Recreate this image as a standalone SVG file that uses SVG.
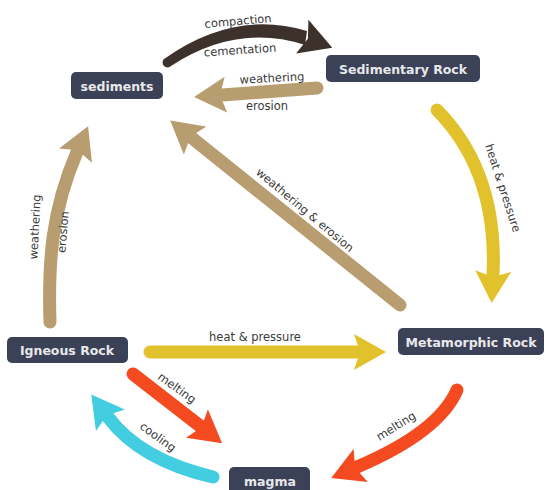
<svg xmlns="http://www.w3.org/2000/svg" width="546" height="490" viewBox="0 0 546 490">
<style>
.node rect{fill:#3b4258;}
.node text{fill:#e8e8ea;font-family:"DejaVu Sans","Liberation Sans",sans-serif;font-weight:bold;font-size:12.5px;text-anchor:middle;dominant-baseline:central;}
.lbl{fill:#3a3a3a;font-family:"DejaVu Sans","Liberation Sans",sans-serif;font-size:11.5px;text-anchor:middle;dominant-baseline:central;}
.arr{fill:none;stroke-width:13;stroke-linecap:round;}
.ghost{fill:none;stroke:none;}
.dark{stroke:#3d312c;}
.tan{stroke:#b89d70;}
.yel{stroke:#e2c22c;}
.red{stroke:#f44a1f;}
.cyan{stroke:#42cde0;}
</style>
<defs>
<marker id="hDark" markerUnits="userSpaceOnUse" markerWidth="32" markerHeight="36" viewBox="0 0 32 36" refX="4" refY="18" orient="auto"><path d="M0,0 L32,18 L0,36 L6,18 Z" fill="#3d312c"/></marker>
<marker id="hTan" markerUnits="userSpaceOnUse" markerWidth="32" markerHeight="36" viewBox="0 0 32 36" refX="4" refY="18" orient="auto"><path d="M0,0 L32,18 L0,36 L6,18 Z" fill="#b89d70"/></marker>
<marker id="hYel" markerUnits="userSpaceOnUse" markerWidth="32" markerHeight="36" viewBox="0 0 32 36" refX="4" refY="18" orient="auto"><path d="M0,0 L32,18 L0,36 L6,18 Z" fill="#e2c22c"/></marker>
<marker id="hRed" markerUnits="userSpaceOnUse" markerWidth="32" markerHeight="36" viewBox="0 0 32 36" refX="4" refY="18" orient="auto"><path d="M0,0 L32,18 L0,36 L6,18 Z" fill="#f44a1f"/></marker>
<marker id="hCyan" markerUnits="userSpaceOnUse" markerWidth="32" markerHeight="36" viewBox="0 0 32 36" refX="4" refY="18" orient="auto"><path d="M0,0 L32,18 L0,36 L6,18 Z" fill="#42cde0"/></marker>
</defs>
<rect width="546" height="490" fill="#ffffff"/>
<g id="connectors">
<path d="M164,59 Q234,9 307,31 L305,45 Q237,23 171,66 A4.5,4.5 0 0 1 164,59 Z" fill="#3d312c"/>
<path class="ghost" d="M240,26 Q276,27 306,38" marker-end="url(#hDark)"/>
<path class="arr tan" d="M317,88 L222,95" marker-end="url(#hTan)"/>
<path class="arr yel" d="M437,110 Q498,172 493,275" marker-end="url(#hYel)"/>
<path class="arr tan" d="M400,305 L192,138" marker-end="url(#hTan)"/>
<path class="arr tan" d="M50,322 C48,260 52,210 77,152" marker-end="url(#hTan)"/>
<path class="arr yel" d="M150,352 L358,352" marker-end="url(#hYel)"/>
<path class="arr red" d="M457,390 Q439,432 357,467" marker-end="url(#hRed)"/>
<path class="arr red" d="M133,374 L200,426" marker-end="url(#hRed)"/>
<path class="arr cyan" d="M213,477 Q140,460 108,417" marker-end="url(#hCyan)"/>
<text class="lbl" transform="translate(238,21) rotate(-5)">compaction</text>
<text class="lbl" transform="translate(240,50) rotate(-4)">cementation</text>
<text class="lbl" transform="translate(272,78) rotate(-3)">weathering</text>
<text class="lbl" transform="translate(267,106)">erosion</text>
<text class="lbl" transform="translate(503,188) rotate(72)">heat &amp; pressure</text>
<text class="lbl" transform="translate(305,210) rotate(40)">weathering &amp; erosion</text>
<text class="lbl" transform="translate(35,227) rotate(-87)">weathering</text>
<text class="lbl" transform="translate(63,232) rotate(-85)">erosion</text>
<text class="lbl" transform="translate(255,337)">heat &amp; pressure</text>
<text class="lbl" transform="translate(396,426) rotate(-32)">melting</text>
<text class="lbl" transform="translate(177,388) rotate(36)">melting</text>
<text class="lbl" transform="translate(158,437) rotate(36)">cooling</text>
</g>
<g id="sediments" class="node"><rect x="71" y="72" width="92" height="27" rx="5"/><text x="117" y="86">sediments</text></g>
<g id="sedimentary-rock" class="node"><rect x="326" y="55" width="154" height="27" rx="5"/><text x="403" y="69">Sedimentary Rock</text></g>
<g id="metamorphic-rock" class="node"><rect x="398" y="328" width="146" height="27" rx="5"/><text x="471" y="342">Metamorphic Rock</text></g>
<g id="igneous-rock" class="node"><rect x="7" y="337" width="121" height="26" rx="5"/><text x="67" y="350">Igneous Rock</text></g>
<g id="magma" class="node"><rect x="229" y="467" width="81" height="30" rx="5"/><text x="270" y="481">magma</text></g>
</svg>
